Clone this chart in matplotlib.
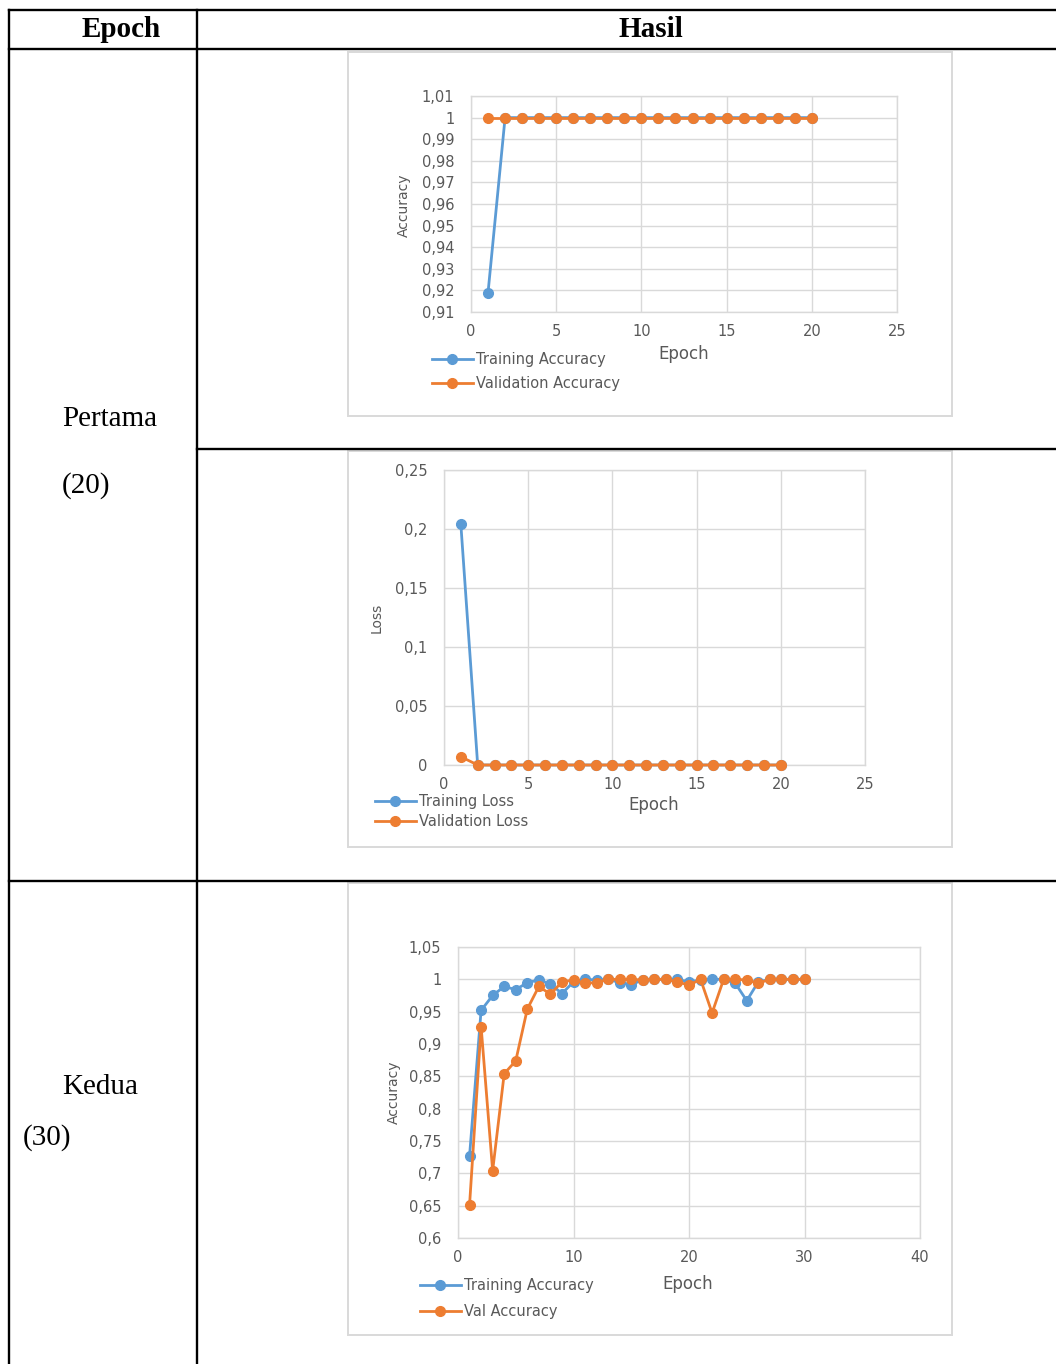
import numpy as np
import matplotlib.pyplot as plt
from matplotlib.patches import Rectangle
from matplotlib.ticker import FuncFormatter

# Hasil pelatihan pertama (20 epoch)
epoch_20 = np.arange(1, 21)
train_acc_20 = [0.919, 1.0, 1.0, 1.0, 1.0, 1.0, 1.0, 1.0, 1.0, 1.0,
                1.0, 1.0, 1.0, 1.0, 1.0, 1.0, 1.0, 1.0, 1.0, 1.0]
val_acc_20 = [1.0, 1.0, 1.0, 1.0, 1.0, 1.0, 1.0, 1.0, 1.0, 1.0,
              1.0, 1.0, 1.0, 1.0, 1.0, 1.0, 1.0, 1.0, 1.0, 1.0]
train_loss_20 = [0.204, 0.0, 0.0, 0.0, 0.0, 0.0, 0.0, 0.0, 0.0, 0.0,
                 0.0, 0.0, 0.0, 0.0, 0.0, 0.0, 0.0, 0.0, 0.0, 0.0]
val_loss_20 = [0.007, 0.0, 0.0, 0.0, 0.0, 0.0, 0.0, 0.0, 0.0, 0.0,
               0.0, 0.0, 0.0, 0.0, 0.0, 0.0, 0.0, 0.0, 0.0, 0.0]

# Hasil pelatihan kedua (30 epoch)
epoch_30 = np.arange(1, 31)
train_acc_30 = [0.727, 0.952, 0.975, 0.989, 0.984, 0.995, 0.999, 0.993, 0.978, 0.996,
                1.0, 0.999, 1.0, 0.995, 0.992, 0.999, 1.0, 1.0, 1.0, 0.996,
                0.999, 1.0, 1.0, 0.994, 0.967, 0.996, 1.0, 1.0, 1.0, 1.0]
val_acc_30 = [0.651, 0.927, 0.704, 0.854, 0.874, 0.954, 0.989, 0.977, 0.996, 0.999,
              0.994, 0.995, 1.0, 1.0, 1.0, 0.999, 1.0, 1.0, 0.996, 0.991,
              1.0, 0.948, 1.0, 1.0, 0.999, 0.994, 1.0, 1.0, 1.0, 1.0]

BLUE = '#5B9BD5'
ORANGE = '#ED7D31'
GRID = '#d9d9d9'
TEXT = '#595959'

W, H = 1056, 1364
plt.rcParams['font.family'] = 'DejaVu Sans'
fig = plt.figure(figsize=(W / 100, H / 100), dpi=100)

# kanvas latar untuk tabel (koordinat piksel)
bg = fig.add_axes([0, 0, 1, 1])
bg.set_xlim(0, W)
bg.set_ylim(H, 0)
bg.axis('off')


def px_axes(left, top, right, bottom):
    return fig.add_axes([left / W, 1 - bottom / H, (right - left) / W, (bottom - top) / H])


def fmt(v, pos):
    return f'{round(v, 2):g}'.replace('.', ',')


def grafik(box, frame, x, series, xmax, xstep, yticks, ylabel, ylabel_xy,
           xlabel_xy, legend_xy, spacing):
    bg.add_patch(Rectangle((frame[0], frame[1]), frame[2] - frame[0], frame[3] - frame[1],
                           fill=False, ec=GRID, lw=1.4))
    ax = px_axes(*box)
    for y, label, color in series:
        ax.plot(x, y, color=color, lw=2, marker='o', ms=7, label=label,
                clip_on=False, zorder=3)
    ax.set_xlim(0, xmax)
    ax.set_xticks(np.arange(0, xmax + 1, xstep))
    ax.set_ylim(yticks[0], yticks[-1])
    ax.set_yticks(yticks)
    ax.yaxis.set_major_formatter(FuncFormatter(fmt))
    ax.grid(True, color=GRID, lw=1)
    ax.set_axisbelow(True)
    for s in ax.spines.values():
        s.set_color(GRID)
        s.set_linewidth(1)
    ax.tick_params(length=0, labelsize=10.5, labelcolor=TEXT)
    ax.tick_params(axis='y', pad=12)
    ax.tick_params(axis='x', pad=9)
    ax.set_ylabel(ylabel, fontsize=10, color=TEXT, va='center')
    ax.yaxis.set_label_coords(*ylabel_xy, transform=bg.transData)
    ax.set_xlabel('Epoch', fontsize=12, color=TEXT, va='center')
    ax.xaxis.set_label_coords(*xlabel_xy, transform=bg.transData)
    leg = ax.legend(loc='upper left', bbox_to_anchor=legend_xy, bbox_transform=bg.transData,
                    frameon=False, fontsize=10.5, handlelength=2.8, handletextpad=0.2,
                    borderpad=0, borderaxespad=0, labelspacing=spacing)
    for t in leg.get_texts():
        t.set_color(TEXT)
    return ax


# grafik 1: akurasi 20 epoch
grafik((471, 96, 897, 312), (348, 52, 952, 416), epoch_20,
       [(train_acc_20, 'Training Accuracy', BLUE), (val_acc_20, 'Validation Accuracy', ORANGE)],
       25, 5, np.round(np.arange(0.91, 1.015, 0.01), 2), 'Accuracy',
       (404, 205), (684, 354), (432, 352), 0.62)

# grafik 2: loss 20 epoch
grafik((444, 470, 865, 765), (348, 451, 952, 847), epoch_20,
       [(train_loss_20, 'Training Loss', BLUE), (val_loss_20, 'Validation Loss', ORANGE)],
       25, 5, np.round(np.arange(0, 0.26, 0.05), 2), 'Loss',
       (377, 618), (654, 805), (375, 794), 0.32)

# grafik 3: akurasi 30 epoch
grafik((458, 947, 920, 1238), (348, 883, 952, 1335), epoch_30,
       [(train_acc_30, 'Training Accuracy', BLUE), (val_acc_30, 'Val Accuracy', ORANGE)],
       40, 10, np.round(np.arange(0.6, 1.06, 0.05), 2), 'Accuracy',
       (394, 1092), (688, 1284), (420, 1278), 0.78)

# garis tabel
kw = dict(color='black', lw=1.7, solid_capstyle='projecting')
bg.plot([9, W], [10, 10], **kw)
bg.plot([9, W], [49, 49], **kw)
bg.plot([197, W], [449, 449], **kw)
bg.plot([9, W], [881, 881], **kw)
bg.plot([9, 9], [10, H], **kw)
bg.plot([197, 197], [10, H], **kw)

serif = dict(fontfamily='Liberation Serif', fontsize=21, va='baseline')
bg.text(121, 37, 'Epoch', ha='center', fontweight='bold', **serif)
bg.text(651, 37, 'Hasil', ha='center', fontweight='bold', **serif)
bg.text(62, 426, 'Pertama', ha='left', **serif)
bg.text(62, 493, '(20)', ha='left', **serif)
bg.text(62, 1094, 'Kedua', ha='left', **serif)
bg.text(23, 1145, '(30)', ha='left', **serif)

fig.savefig('out.png', dpi=100)
